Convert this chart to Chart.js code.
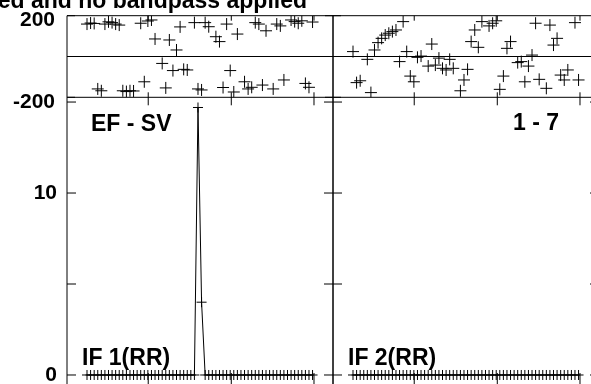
<!DOCTYPE html>
<html>
<head>
<meta charset="utf-8">
<style>
  html, body { margin: 0; padding: 0; overflow: hidden; background: #fff; }
  canvas { display: block; }
</style>
</head>
<body>
<canvas id="chart" width="610" height="400"></canvas>
<script src="https://cdn.jsdelivr.net/npm/chart.js@4/dist/chart.umd.min.js"></script>
<script>
// channel numbers, 64 per IF
const channels = []
for (let i = 1; i <= 64; i++) {
  channels.push(i)
}

// phase in degrees, null where no point is visible
const phaseIF1 = [
  159, 164, 162, -159, -168, 159, 170, 166, 159, 154,
  -168, -172, -168, -169, null, 163, -124, 174, 179, 86,
  null, -34, -154, 81, -69, 32, 145, -63, -66, null,
  166, -159, -164, 166, 146, null, 97, 73, -152, 159,
  -69, -174, 110, null, -124, -159, -151, 166, 159, -140,
  126, null, -159, 159, 150, -115, null, 179, 171, 163,
  175, -132, -151, 169,
]
const phaseIF2 = [
  24, -128, -119, null, -14, -177, 32, 68, 89, 105,
  114, 122, 130, -25, 171, 24, -96, -124, -4, 2,
  null, -47, 61, -42, -8, -58, -66, -14, -58, null,
  -168, -115, -63, 73, 130, 45, 171, null, 150, 163,
  175, -161, -96, 40, 73, null, -30, -25, -124, -47,
  7, 163, -112, null, -156, 154, 56, 89, -91, -115,
  -66, null, 166, -115,
]

// amplitude
const ampIF1 = [
  0, 0, 0, 0, 0, 0, 0, 0, 0, 0,
  0, 0, 0, 0, 0, 0, 0, 0, 0, 0,
  0, 0, 0, 0, 0, 0, 0, 0, 0, 0,
  0, 14.7, 4.0, 0, 0, 0, 0, 0, 0, 0,
  0, 0, 0, 0, 0, 0, 0, 0, 0, 0,
  0, 0, 0, 0, 0, 0, 0, 0, 0, 0,
  0, 0, 0, 0,
]
const ampIF2 = [
  0, 0, 0, 0, 0, 0, 0, 0, 0, 0,
  0, 0, 0, 0, 0, 0, 0, 0, 0, 0,
  0, 0, 0, 0, 0, 0, 0, 0, 0, 0,
  0, 0, 0, 0, 0, 0, 0, 0, 0, 0,
  0, 0, 0, 0, 0, 0, 0, 0, 0, 0,
  0, 0, 0, 0, 0, 0, 0, 0, 0, 0,
  0, 0, 0, 0,
]

const xTicks = [18.1, 41.3, 64.4]
const phaseTicks = [-200, 0, 200]
const ampTicks = [0, 5, 10, 15]
const phaseLabels = { '200': '200', '-200': '-200' }
const ampLabels = { '0': '0', '10': '10' }

const titleText = 'ed and no bandpass applied'
const baselineText = 'EF - SV'
const timeText = '1 - 7'
const ifTexts = ['IF 1(RR)', 'IF 2(RR)']

// each panel spans this many channel units, second panel is shifted by it
const PANEL_W = 74.3
const X_MIN = -4.59

function points (values, offset) {
  const out = []
  for (let i = 0; i < values.length; i++) {
    if (values[i] === null) continue
    out.push({ x: channels[i] + offset, y: values[i] })
  }
  return out
}

const crossStyle = {
  pointStyle: 'cross',
  borderColor: '#000',
  backgroundColor: '#000',
  pointBorderColor: '#000',
  pointBorderWidth: 1,
}

const labelFont = { family: '"Liberation Sans", Arial, sans-serif', size: 21, weight: 'bold' }

// fixed axis width, and no extra room for the end labels
function fitAxis (scale) {
  scale.width = 67
  scale.paddingTop = 0
  scale.paddingBottom = 0
}

const framePlugin = {
  id: 'frame',
  afterDatasetsDraw (chart) {
    const ctx = chart.ctx
    const xs = chart.scales.x
    const yP = chart.scales.yPhase
    const yA = chart.scales.yAmp
    const top = yP.top
    const mid = yA.top
    const bottom = yA.bottom

    ctx.save()
    ctx.strokeStyle = '#000'
    ctx.lineWidth = 1
    ctx.beginPath()
    function seg (x1, y1, x2, y2) {
      ctx.moveTo(x1, y1)
      ctx.lineTo(x2, y2)
    }
    for (let p = 0; p < 2; p++) {
      const off = p * PANEL_W
      const L = xs.getPixelForValue(X_MIN + off)
      const R = xs.getPixelForValue(X_MIN + PANEL_W + off)
      seg(L, top, L, bottom)
      seg(R, top, R, bottom)
      seg(L, top, R, top)
      seg(L, mid, R, mid)
      seg(L, bottom, R, bottom)
      for (const v of phaseTicks) {
        const y = yP.getPixelForValue(v)
        seg(L, y, L + 8, y)
        seg(R - 8, y, R, y)
      }
      for (const v of ampTicks) {
        const y = yA.getPixelForValue(v)
        seg(L, y, L + 9, y)
        seg(R - 9, y, R, y)
      }
      for (const c of xTicks) {
        const x = xs.getPixelForValue(c + off)
        seg(x, top, x, top + 5)
        seg(x, mid - 5, x, mid + 8)
        seg(x, bottom - 12, x, bottom)
      }
    }
    ctx.stroke()

    ctx.fillStyle = '#000'
    ctx.font = 'bold 23px "Liberation Sans", Arial, sans-serif'
    ctx.textBaseline = 'alphabetic'
    ctx.textAlign = 'right'
    ctx.fillText(titleText, 307, 8)

    const L1 = xs.getPixelForValue(X_MIN)
    const L2 = xs.getPixelForValue(X_MIN + PANEL_W)
    const zero = yA.getPixelForValue(0)
    ctx.textAlign = 'left'
    ctx.fillText(baselineText, L1 + 24, mid + 34)
    ctx.fillText(timeText, L2 + 180, mid + 33)
    ctx.fillText(ifTexts[0], L1 + 15, zero - 10)
    ctx.fillText(ifTexts[1], L2 + 15, zero - 10)
    ctx.restore()
  },
}

const config = {
  type: 'scatter',
  data: {
    datasets: [
      { data: points(phaseIF1, 0), yAxisID: 'yPhase', showLine: false, pointRadius: 6, ...crossStyle },
      { data: points(phaseIF2, PANEL_W), yAxisID: 'yPhase', showLine: false, pointRadius: 6, ...crossStyle },
      { data: points(ampIF1, 0), yAxisID: 'yAmp', showLine: true, borderWidth: 1, pointRadius: 5, ...crossStyle },
      { data: points(ampIF2, PANEL_W), yAxisID: 'yAmp', showLine: true, borderWidth: 1, pointRadius: 5, ...crossStyle },
    ],
  },
  options: {
    responsive: false,
    animation: false,
    layout: {
      padding: { top: 15.7, right: 11, bottom: 15, left: 0 },
    },
    plugins: {
      legend: { display: false },
      tooltip: { enabled: false },
    },
    scales: {
      x: {
        type: 'linear',
        min: X_MIN,
        max: X_MIN + 2 * PANEL_W,
        display: false,
      },
      yPhase: {
        type: 'linear',
        position: 'left',
        stack: 'main',
        stackWeight: 81.6,
        weight: 2,
        min: -200,
        max: 200,
        afterBuildTicks: function (scale) {
          scale.ticks = phaseTicks.map(v => ({ value: v }))
        },
        afterFit: fitAxis,
        ticks: {
          autoSkip: false,
          padding: 12,
          labelOffset: 4.5,
          color: '#000',
          font: labelFont,
          callback: v => phaseLabels[v] || '',
        },
        grid: {
          drawTicks: false,
          lineWidth: 1,
          color: c => (c.tick && c.tick.value === 0 ? '#000' : 'rgba(0,0,0,0)'),
        },
        border: { display: false },
      },
      yAmp: {
        type: 'linear',
        position: 'left',
        stack: 'main',
        stackWeight: 287.7,
        weight: 1,
        min: -0.55,
        max: 15.26,
        afterBuildTicks: function (scale) {
          scale.ticks = ampTicks.map(v => ({ value: v }))
        },
        afterFit: fitAxis,
        ticks: {
          autoSkip: false,
          padding: 10,
          labelOffset: 0.5,
          color: '#000',
          font: labelFont,
          callback: v => ampLabels[v] || '',
        },
        grid: { display: false, drawTicks: false },
        border: { display: false },
      },
    },
  },
  plugins: [framePlugin],
}

const ctx = document.getElementById('chart').getContext('2d')
const myChart = new Chart(ctx, config)
</script>
</body>
</html>
